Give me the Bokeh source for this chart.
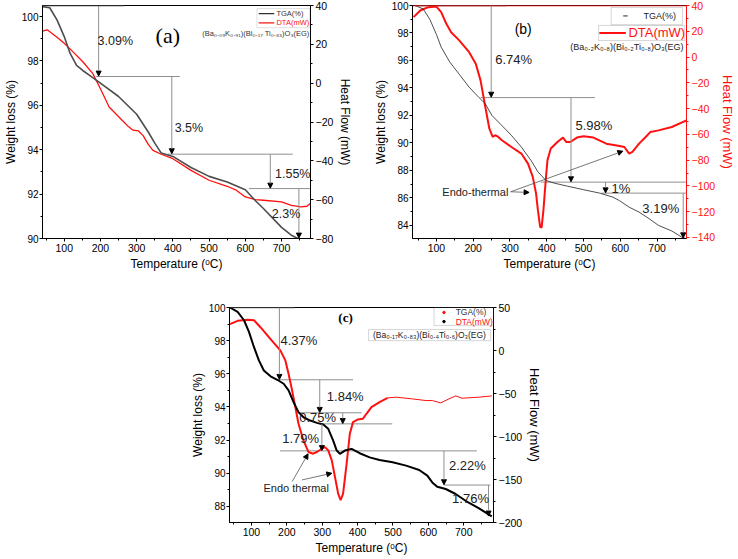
from bokeh.plotting import figure
from bokeh.models import (Range1d, LinearAxis, FixedTicker, Arrow, NormalHead,
                          Span, Spacer, BoxAnnotation, Label)
from bokeh.layouts import row, column
from bokeh.embed import file_html
from bokeh.resources import INLINE

FONT = "Liberation Sans"
SERIF = "Liberation Serif"
RED = "#ff1010"
GRAY = "#8f8f8f"

# ---------------- tick labels ----------------
temp_ticks = [100, 200, 300, 400, 500, 600, 700]
temp_minor = [50, 150, 250, 350, 450, 550, 650, 750]
a_w_ticks = [90, 92, 94, 96, 98, 100]
a_w_minor = [91, 93, 95, 97, 99]
a_hf_ticks = [-80, -60, -40, -20, 0, 20, 40]
a_hf_minor = [-70, -50, -30, -10, 10, 30]
b_w_ticks = [84, 86, 88, 90, 92, 94, 96, 98, 100]
b_w_minor = [85, 87, 89, 91, 93, 95, 97, 99]
b_hf_ticks = [-140, -120, -100, -80, -60, -40, -20, 0, 20, 40]
b_hf_minor = [-130, -110, -90, -70, -50, -30, -10, 10, 30]
c_w_ticks = [88, 90, 92, 94, 96, 98, 100]
c_w_minor = [89, 91, 93, 95, 97, 99]
c_hf_ticks = [-200, -150, -100, -50, 0, 50]
c_hf_minor = [-175, -125, -75, -25, 25]

# ---------------- data: panel (a) ----------------
a_tga_T = [40, 60, 80, 100, 116, 134, 152, 170, 200, 250, 300, 332, 350, 368,
           400, 450, 500, 550, 600, 628, 650, 700, 727, 745]
a_tga_W = [100.45, 100.4, 99.85, 99.1, 98.35, 97.8, 97.56, 97.35, 97.0, 96.4,
           95.6, 94.8, 94.3, 93.85, 93.7, 93.2, 92.8, 92.55, 92.2, 91.7, 91.35,
           90.5, 90.15, 90.0]
a_dta_T = [40, 53, 80, 100, 125, 152, 179, 200, 224, 251, 278, 290, 305, 318,
           332, 345, 368, 400, 450, 500, 550, 575, 600, 628, 650, 700, 727, 754,
           770, 781]
a_dta_H = [26.8, 27.5, 23.7, 20.6, 16.0, 10.9, 4.9, -2.9, -12.3, -17.4, -22.5,
           -24.2, -24.6, -27.0, -31.5, -34.6, -36.6, -38.9, -44.9, -50.0, -53.1,
           -55.1, -58.6, -60.0, -60.3, -61.1, -62.9, -63.7, -63.4, -61.7]

# ---------------- data: panel (b) ----------------
b_tga_T = [42, 64, 82, 100, 113, 136, 162, 189, 216, 233, 251, 278, 304, 331,
           358, 376, 398, 420, 456, 500, 544, 580, 598, 624, 651, 678, 704, 740,
           767, 778]
b_tga_W = [100.0, 99.75, 99.0, 97.9, 96.97, 95.9, 95.0, 94.06, 93.3, 92.85,
           92.0, 91.27, 90.55, 89.7, 88.7, 87.9, 87.27, 87.08, 86.86, 86.6,
           86.35, 86.06, 85.8, 85.33, 84.97, 84.5, 84.0, 83.6, 83.15, 83.05]
b_dta_T = [38, 56, 78, 100, 113, 127, 140, 162, 189, 207, 220, 233, 244, 253,
           260, 266, 278, 304, 331, 349, 362, 371, 376, 382, 386, 391, 398, 402,
           411, 429, 444, 453, 464, 482, 500, 527, 562, 598, 611, 624, 633, 651,
           669, 682, 704, 740, 780]
b_dta_H = [31, 36.1, 38.7, 39.2, 34.8, 25.8, 19.3, 12.9, 3.8, -5.2, -18.1,
           -38.8, -55.6, -62, -60.7, -61.5, -64.6, -69.8, -74.9, -82.7, -93,
           -105.9, -118.8, -131.7, -132.3, -118.8, -93, -80, -71, -65.9, -62.5,
           -65.9, -65.9, -62.5, -61.5, -62.5, -67.2, -69, -69.8, -74.9, -73.6,
           -67.2, -62, -58.1, -56.9, -54.3, -49.1]

# ---------------- data: panel (c) ----------------
c_tga_T = [39, 61, 79, 93, 107, 121, 135, 154, 173, 191, 205, 219, 233, 247,
           266, 285, 303, 317, 331, 341, 350, 364, 383, 406, 434, 462, 499, 537,
           574, 597, 611, 625, 649, 677, 705, 742, 779]
c_tga_W = [100.0, 99.74, 99.23, 98.53, 97.62, 96.81, 96.2, 95.85, 95.64, 95.4,
           95.0, 94.29, 93.69, 93.38, 93.18, 93.04, 92.94, 92.68, 91.97, 91.37,
           91.17, 91.37, 91.47, 91.21, 90.96, 90.80, 90.66, 90.46, 90.2, 89.86,
           89.45, 89.19, 89.05, 88.75, 88.34, 87.9, 87.4]
c_dta_T = [39, 61, 89, 107, 126, 154, 182, 196, 205, 215, 224, 233, 247, 261,
           274, 285, 299, 308, 317, 327, 336, 345, 352, 359, 369, 378, 387, 401,
           415, 425, 439, 462, 485, 509, 555, 593, 611, 635, 658, 677, 695, 742,
           779]
c_dta_H = [30.7, 34.5, 35.7, 35.3, 26.8, 13.3, -0.2, -11.8, -27.3, -46.6,
           -65.9, -85.2, -104.6, -118, -120, -118, -114.2, -112.3, -116.2,
           -127.7, -147, -166.4, -174.1, -166.4, -131.6, -96.8, -83.3, -80.2,
           -79.4, -73.6, -65.9, -60.1, -55.1, -54.3, -56.3, -58.2, -58.2, -60.9,
           -56.3, -52.8, -55.5, -54.3, -52.8]


def minus(ticks):
    return {t: str(t).replace("-", "\u2212") for t in ticks if t < 0}


def style_axis(ax, color="black", label_size="12px", tick_size="10.5px"):
    ax.axis_label_text_font = FONT
    ax.axis_label_text_font_style = "normal"
    ax.axis_label_text_font_size = label_size
    ax.axis_label_text_color = color
    ax.major_label_text_font = FONT
    ax.major_label_text_font_size = tick_size
    ax.major_label_text_color = color
    ax.axis_line_color = color
    ax.major_tick_line_color = color
    ax.minor_tick_line_color = color
    ax.major_tick_in = 0
    ax.major_tick_out = 3
    ax.minor_tick_in = 0
    ax.minor_tick_out = 2
    ax.axis_label_standoff = 2
    ax.major_label_standoff = 2


def make_fig(w, h, xr, yr, hfr, borders, wt, wm, ht, hm, right_color="black",
             right_label_size="12px"):
    p = figure(width=w, height=h, x_range=Range1d(*xr), y_range=Range1d(*yr),
               output_backend="svg", toolbar_location=None,
               min_border_left=borders[0], min_border_right=borders[1],
               min_border_top=borders[2], min_border_bottom=borders[3])
    p.xgrid.visible = False
    p.ygrid.visible = False
    p.outline_line_color = "black"
    p.outline_line_width = 1
    p.background_fill_color = "white"
    p.border_fill_color = "white"
    p.xaxis.ticker = FixedTicker(ticks=temp_ticks, minor_ticks=temp_minor)
    p.xaxis.axis_label = "Temperature (\u1d52C)"
    p.yaxis.ticker = FixedTicker(ticks=wt, minor_ticks=wm)
    p.yaxis.axis_label = "Weight loss (%)"
    style_axis(p.xaxis[0])
    style_axis(p.yaxis[0], tick_size="10px")
    p.yaxis[0].axis_label_standoff = 1
    p.yaxis[0].major_label_standoff = 1
    p.extra_y_ranges = {"hf": Range1d(*hfr)}
    ax = LinearAxis(y_range_name="hf", axis_label="Heat Flow (mW)",
                    ticker=FixedTicker(ticks=ht, minor_ticks=hm))
    ax.major_label_overrides = minus(ht)
    style_axis(ax, right_color, label_size=right_label_size)
    p.add_layout(ax, "right")
    return p


def arrow(p, x, y0, y1, color="black", size=5):
    p.add_layout(Arrow(end=NormalHead(size=size, fill_color=color, line_color=color),
                       x_start=x, y_start=y0, x_end=x, y_end=y1,
                       line_color=GRAY, line_width=1))


def free_arrow(p, x0, y0, x1, y1, size=5):
    p.add_layout(Arrow(end=NormalHead(size=size, fill_color="black", line_color="black"),
                       x_start=x0, y_start=y0, x_end=x1, y_end=y1,
                       line_color="#555555", line_width=0.8))


def label(p, x, y, text, size="13px", color="#222222", font=FONT, align="left",
          style="normal"):
    p.add_layout(Label(x=x, y=y, text=text, text_font=font, text_font_size=size,
                       text_color=color, text_align=align, text_baseline="middle",
                       text_font_style=style))


# =============== panel (a) ===============
pa = make_fig(370, 277, (40, 780), (90, 100.5), (-80, 40), (35, 60, 5, 39),
              a_w_ticks, a_w_minor, a_hf_ticks, a_hf_minor)
pa.segment(x0=[40, 188, 386, 610], y0=[100.48, 97.3, 93.8, 92.25],
           x1=[265, 419, 731, 780], y1=[100.48, 97.3, 93.8, 92.25],
           line_color=GRAY, line_width=1)
arrow(pa, 195, 100.48, 97.32)
arrow(pa, 397, 97.3, 93.82)
arrow(pa, 669, 93.8, 92.27)
arrow(pa, 748, 92.25, 90.02)
pa.line(a_dta_T, a_dta_H, y_range_name="hf", line_color=RED, line_width=1.3)
pa.line(a_tga_T, a_tga_W, line_color="#4d4d4d", line_width=1.6)
label(pa, 192, 98.9, "3.09%", size="12.5px")
label(pa, 405, 95.0, "3.5%", size="12.5px")
label(pa, 682, 92.9, "1.55%", size="12.5px")
label(pa, 673, 91.1, "2.3%", size="12.5px")
label(pa, 386, 99.15, "(a)", size="22px", font=SERIF, align="center", color="black")
pa.add_layout(BoxAnnotation(left=632, right=778, top=100.36, bottom=99.5,
                            fill_alpha=0, line_color="#999999", line_width=1))
pa.segment(x0=[637, 637], y0=[100.13, 99.72], x1=[680, 680], y1=[100.13, 99.72],
           line_color=["#333333", RED], line_width=1.2)
label(pa, 686, 100.13, "TGA(%)", size="7.5px", color="#333333")
label(pa, 686, 99.72, "DTA(mW)", size="7.5px", color=RED)
label(pa, 777, 99.24, "(Ba\u2080.\u2080\u2089K\u2080.\u2089\u2081)(Bi\u2080.\u2081\u2087 Ti\u2080.\u2088\u2083)O\u2083(EG)",
      size="7.5px", color="#333333", align="right")

# =============== panel (b) ===============
pb = make_fig(368, 277, (35, 780), (83.05, 100), (-140.8, 40), (42, 46, 5, 39),
              b_w_ticks, b_w_minor, b_hf_ticks, b_hf_minor, right_color=RED,
              right_label_size="13px")
pb.add_layout(Span(location=100, dimension="width", line_color=RED, line_width=1.5))
pb.segment(x0=[42, 220, 384, 549], y0=[99.97, 93.3, 87.15, 86.35],
           x1=[291, 531, 780, 780], y1=[99.97, 93.3, 87.15, 86.35],
           line_color=GRAY, line_width=1)
arrow(pb, 249, 100, 93.33)
arrow(pb, 466, 93.3, 87.18)
arrow(pb, 560, 87.15, 86.37)
arrow(pb, 771, 86.35, 83.1)
pb.line(b_dta_T, b_dta_H, y_range_name="hf", line_color=RED, line_width=2)
pb.line(b_tga_T, b_tga_W, line_color="#222222", line_width=0.8)
free_arrow(pb, 302, 86.45, 352, 86.4)
free_arrow(pb, 302, 86.45, 607, 89.4)
label(pb, 116, 86.42, "Endo-thermal", size="11px", color="#222222")
label(pb, 260, 96.1, "6.74%")
label(pb, 478, 91.3, "5.98%")
label(pb, 576, 86.7, "1%")
label(pb, 660, 85.2, "3.19%")
label(pb, 336, 98.3, "(b)", size="14px", align="center", color="black")
pb.add_layout(BoxAnnotation(left=575, right=769, top=99.85, bottom=98.6,
                            fill_alpha=0, line_color="#777777", line_width=1))
pb.add_layout(BoxAnnotation(left=541, right=775, top=98.55, bottom=97.45,
                            fill_alpha=0, line_color="#777777", line_width=1))
pb.segment(x0=[608, 543], y0=[99.24, 98.0], x1=[620, 615], y1=[99.24, 98.0],
           line_color=["#222222", RED], line_width=[1, 2])
label(pb, 663, 99.24, "TGA(%)", size="9px", color="#222222")
label(pb, 622, 98.0, "DTA(mW)", size="13px", color=RED)
label(pb, 772, 96.97, "(Ba\u2080.\u2082K\u2080.\u2088)(Bi\u2080.\u2082Ti\u2080.\u2088)O\u2083(EG)",
      size="9px", color="#222222", align="right")

# =============== panel (c) ===============
pc = make_fig(358, 282, (38, 784), (87.03, 100), (-200, 50), (42, 50, 30, 37),
              c_w_ticks, c_w_minor, c_hf_ticks, c_hf_minor, right_label_size="13px")
pc.segment(x0=[39, 173, 229, 299, 181, 644], y0=[99.98, 95.64, 93.65, 92.98, 91.35, 89.29],
           x1=[222, 387, 411, 498, 737, 775], y1=[99.98, 95.64, 93.65, 92.98, 91.35, 89.29],
           line_color=GRAY, line_width=1)
arrow(pc, 179, 100, 95.66)
arrow(pc, 293, 95.64, 93.67)
arrow(pc, 358, 93.65, 93.0)
arrow(pc, 299, 92.98, 91.37)
arrow(pc, 644, 91.35, 89.31)
arrow(pc, 770, 89.29, 87.42)
k = 33  # index split: thick DTA up to ~485 C, thin afterwards
pc.line(c_dta_T[:k], c_dta_H[:k], y_range_name="hf", line_color=RED, line_width=2)
pc.line(c_dta_T[k - 1:], c_dta_H[k - 1:], y_range_name="hf", line_color=RED, line_width=1)
pc.line(c_tga_T, c_tga_W, line_color="black", line_width=2)
free_arrow(pc, 215, 89.5, 260, 91.17)
free_arrow(pc, 243, 89.6, 327, 90.0)
label(pc, 134, 89.1, "Endo thermal", size="11px", color="#222222")
label(pc, 182, 98.0, "4.37%")
label(pc, 313, 94.62, "1.84%")
label(pc, 235, 93.37, "0.75%")
label(pc, 187, 92.1, "1.79%")
label(pc, 658, 90.47, "2.22%")
label(pc, 667, 88.5, "1.76%")
label(pc, 366, 99.4, "(c)", size="13px", font=SERIF, align="center", color="black",
      style="bold")
pc.add_layout(BoxAnnotation(left=616, right=784, top=100, bottom=98.91,
                            fill_alpha=0, line_color="#777777", line_width=1))
pc.scatter(x=[644, 644], y=[99.7, 99.15], size=2.5, color=[RED, "black"])
label(pc, 677, 99.7, "TGA(%)", size="8.5px", color="#333333")
label(pc, 677, 99.15, "DTA(mW)", size="8.5px", color=RED)
pc.add_layout(BoxAnnotation(left=431, right=776, top=98.67, bottom=98.0,
                            fill_alpha=0, line_color="#777777", line_width=1))
label(pc, 603, 98.34, "(Ba\u2080.\u2081\u2087K\u2080.\u2088\u2083)(Bi\u2080.\u2084Ti\u2080.\u2086)O\u2083(EG)",
      size="8.5px", color="#222222", align="center")

layout = column(row(pa, pb), row(Spacer(width=187, height=282), pc))
open("out.html", "w").write(file_html(layout, INLINE))
